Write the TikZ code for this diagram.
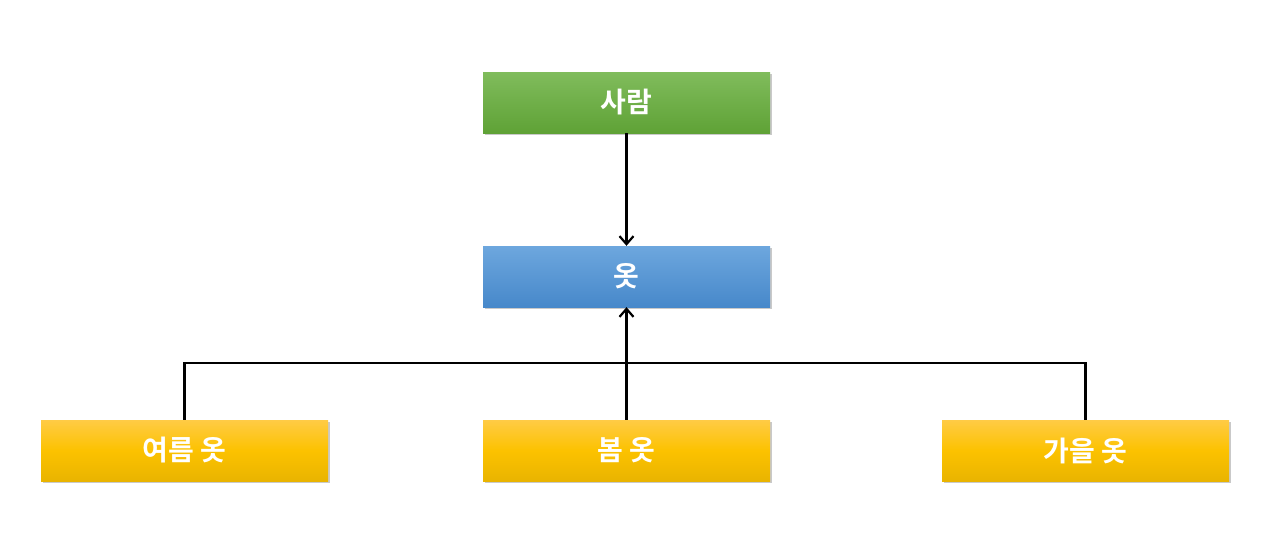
\documentclass[tikz,border=0pt]{standalone}
\usepackage{fontspec}
\newfontfamily\kr{Noto Sans CJK KR}[BoldFont={* Bold}]
\usetikzlibrary{shadows,arrows.meta}
\definecolor{gtop}{HTML}{80BC5C}
\definecolor{gbot}{HTML}{5FA236}
\definecolor{btop}{HTML}{6DA7DE}
\definecolor{bbot}{HTML}{4788CA}
\definecolor{ytop}{HTML}{FFCB45}
\definecolor{ymid}{HTML}{FCC200}
\definecolor{ybot}{HTML}{E9B400}
\tikzset{
  box/.style={minimum width=287pt, minimum height=61pt, inner sep=0pt,
    text=white, font=\kr\bfseries\fontsize{28}{32}\selectfont,
    drop shadow={shadow xshift=1.5pt, shadow yshift=-2pt, opacity=0.3, fill=black!70}},
  gbox/.style={box, top color=gtop, bottom color=gbot},
  bbox/.style={box, top color=btop, bottom color=bbot},
  ybox/.style={box, top color=ytop, bottom color=ybot, middle color=ymid},
  conn/.style={line width=2.2pt, black},
  arr/.style={conn, -{Straight Barb[length=8pt, width=14pt, line width=2.2pt]}}
}
\begin{document}
\begin{tikzpicture}[x=1pt,y=-1pt]
\useasboundingbox (0,0) rectangle (1264,536);
\node[gbox] (person) at (626.5,102.5) {사람};
\node[bbox] (clothes) at (626.5,276.5) {옷};
\node[ybox] (summer) at (184.5,450.5) {여름 옷};
\node[ybox] (spring) at (626.5,450.5) {봄 옷};
\node[ybox] (autumn) at (1085.5,450.5) {가을 옷};
\coordinate (bar) at (626.5,363);
\draw[arr] (person.south) -- (clothes.north);
\draw[conn] (summer.north) |- (bar);
\draw[conn] (autumn.north) |- (bar);
\draw[arr] (spring.north) -- (clothes.south);
\end{tikzpicture}
\end{document}
